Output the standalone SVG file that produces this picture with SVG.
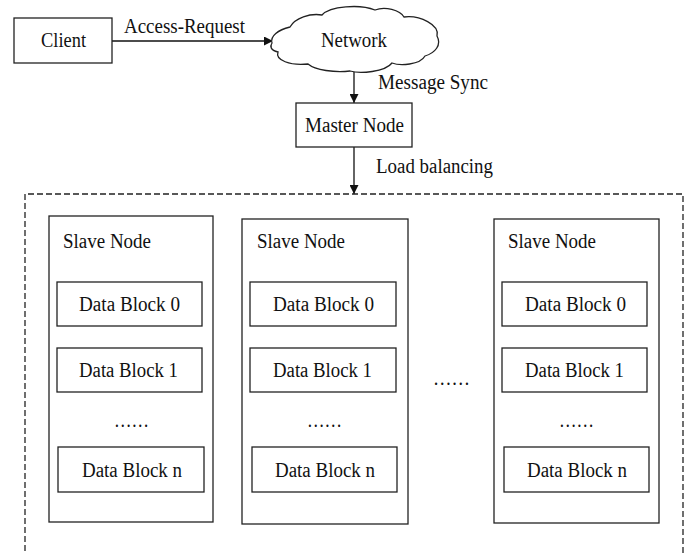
<svg xmlns="http://www.w3.org/2000/svg" width="691" height="553" viewBox="0 0 691 553">
  <defs>
    <marker id="arrow" viewBox="0 0 10 10" refX="10" refY="5" markerWidth="9" markerHeight="9" markerUnits="userSpaceOnUse" orient="auto">
      <path d="M0,0 L10,5 L0,10 Z" fill="#111"/>
    </marker>
  </defs>
  <style>
    .box { fill: #fff; stroke: #222; stroke-width: 1.3; }
    .txt { font-family: "Liberation Serif", "Times New Roman", serif; font-size: 20.5px; fill: #111; }
    .edge { fill: none; stroke: #111; stroke-width: 1.3; }
    .dash { fill: none; stroke: #222; stroke-width: 1.3; stroke-dasharray: 6 3; }
  </style>
  <rect width="691" height="553" fill="#fff"/>

  <g id="connectors">
    <line class="edge" x1="112" y1="41" x2="273" y2="41" marker-end="url(#arrow)"/>
    <line class="edge" x1="354" y1="71" x2="354" y2="103" marker-end="url(#arrow)"/>
    <line class="edge" x1="354" y1="147" x2="354" y2="194" marker-end="url(#arrow)"/>
    <text class="txt" x="124" y="33" textLength="121" lengthAdjust="spacingAndGlyphs">Access-Request</text>
    <text class="txt" x="378" y="89" textLength="110" lengthAdjust="spacingAndGlyphs">Message Sync</text>
    <text class="txt" x="376" y="173" textLength="117" lengthAdjust="spacingAndGlyphs">Load balancing</text>
  </g>

  <g id="client">
    <rect class="box" x="14" y="18" width="98" height="45"/>
    <text class="txt" x="41" y="47" textLength="45" lengthAdjust="spacingAndGlyphs">Client</text>
  </g>

  <g id="network">
    <path class="box" d="M 272,43 C 270,36 278,30 290,27 C 295,18 310,13 322,15 C 330,6 360,4 375,10 C 385,6 400,10 404,17 C 420,15 440,25 437,36 C 442,45 435,53 425,56 C 420,65 400,66 392,63 C 385,72 360,74 350,71 C 335,73 315,70 308,64 C 290,66 275,60 278,52 C 270,50 270,46 272,43 Z"/>
    <text class="txt" x="321" y="47" textLength="66" lengthAdjust="spacingAndGlyphs">Network</text>
  </g>

  <g id="master">
    <rect class="box" x="296" y="103" width="116" height="44"/>
    <text class="txt" x="305" y="132" textLength="99" lengthAdjust="spacingAndGlyphs">Master Node</text>
  </g>

  <g id="cluster">
    <path class="dash" d="M 25,560 L 25,194 L 683,194 L 683,560"/>
  </g>

  <g id="slave1">
    <rect class="box" x="49" y="216" width="164" height="306"/>
    <text class="txt" x="63" y="248" textLength="88" lengthAdjust="spacingAndGlyphs">Slave Node</text>
    <rect class="box" x="57" y="282" width="145" height="44"/>
    <text class="txt" x="79" y="311" textLength="101" lengthAdjust="spacingAndGlyphs">Data Block 0</text>
    <rect class="box" x="57" y="348" width="145" height="44"/>
    <text class="txt" x="79" y="377" textLength="99" lengthAdjust="spacingAndGlyphs">Data Block 1</text>
    <text class="txt" x="114" y="427" textLength="35" lengthAdjust="spacingAndGlyphs">……</text>
    <rect class="box" x="58" y="447" width="146" height="45"/>
    <text class="txt" x="82" y="477" textLength="100" lengthAdjust="spacingAndGlyphs">Data Block n</text>
  </g>

  <g id="slave2">
    <rect class="box" x="242" y="219" width="166" height="305"/>
    <text class="txt" x="257" y="248" textLength="88" lengthAdjust="spacingAndGlyphs">Slave Node</text>
    <rect class="box" x="250" y="282" width="146" height="44"/>
    <text class="txt" x="273" y="311" textLength="101" lengthAdjust="spacingAndGlyphs">Data Block 0</text>
    <rect class="box" x="250" y="348" width="146" height="44"/>
    <text class="txt" x="273" y="377" textLength="99" lengthAdjust="spacingAndGlyphs">Data Block 1</text>
    <text class="txt" x="307" y="427" textLength="35" lengthAdjust="spacingAndGlyphs">……</text>
    <rect class="box" x="252" y="447" width="145" height="45"/>
    <text class="txt" x="275" y="477" textLength="100" lengthAdjust="spacingAndGlyphs">Data Block n</text>
  </g>

  <text class="txt" x="433" y="385" textLength="37" lengthAdjust="spacingAndGlyphs">……</text>

  <g id="slave3">
    <rect class="box" x="494" y="219" width="165" height="304"/>
    <text class="txt" x="508" y="248" textLength="88" lengthAdjust="spacingAndGlyphs">Slave Node</text>
    <rect class="box" x="502" y="282" width="145" height="44"/>
    <text class="txt" x="525" y="311" textLength="101" lengthAdjust="spacingAndGlyphs">Data Block 0</text>
    <rect class="box" x="502" y="348" width="145" height="44"/>
    <text class="txt" x="525" y="377" textLength="99" lengthAdjust="spacingAndGlyphs">Data Block 1</text>
    <text class="txt" x="559" y="427" textLength="35" lengthAdjust="spacingAndGlyphs">……</text>
    <rect class="box" x="504" y="447" width="145" height="45"/>
    <text class="txt" x="527" y="477" textLength="100" lengthAdjust="spacingAndGlyphs">Data Block n</text>
  </g>
</svg>
